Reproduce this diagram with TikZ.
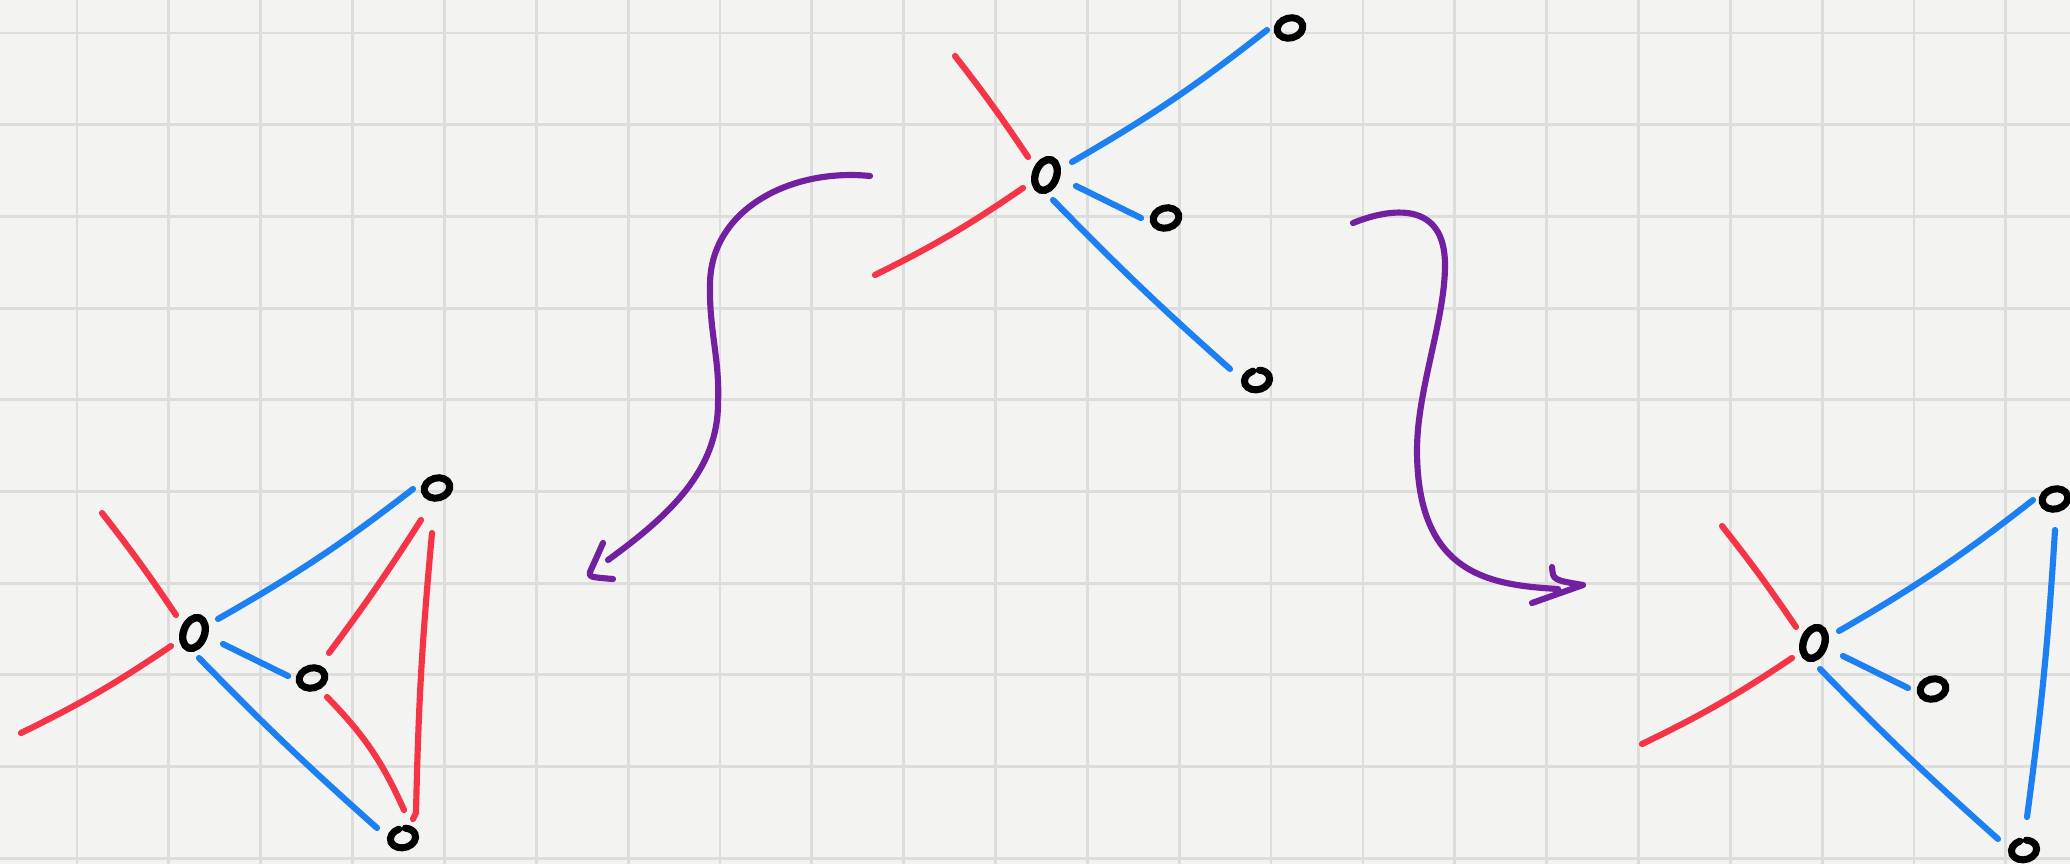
\documentclass[tikz,border=0pt]{standalone}
\usetikzlibrary{shapes.geometric}
\definecolor{paper}{RGB}{243,243,241}
\definecolor{gridc}{RGB}{221,221,219}
\definecolor{ered}{RGB}{245,52,72}
\definecolor{eblue}{RGB}{28,128,242}
\definecolor{apurple}{RGB}{114,32,160}
\tikzset{
  hub/.style={ellipse, draw=black, line width=2.1pt, inner sep=0pt, outer sep=0pt, minimum width=0.21cm, minimum height=0.32cm, rotate=-20},
  vtx/.style={ellipse, draw=black, line width=2pt, inner sep=0pt, outer sep=0pt, minimum width=0.26cm, minimum height=0.20cm, rotate=15},
  vtxo/.style={vtx, draw=none},
  ring/.style={draw=black, line width=2pt, line cap=round},
  redge/.style={draw=ered, line width=1.75pt, line cap=round},
  bedge/.style={draw=eblue, line width=1.75pt, line cap=round},
  parrow/.style={draw=apurple, line width=1.75pt, line cap=round, line join=round},
  gridline/.style={draw=gridc, line width=0.8pt},
}
\newcommand{\openring}[1]{%
  \begin{scope}[shift={(#1.center)}, rotate=12]
    \draw[ring] (100:0.127cm and 0.097cm) arc[start angle=100, end angle=430, x radius=0.127cm, y radius=0.097cm];
  \end{scope}}
\begin{document}
\begin{tikzpicture}[x=0.01cm, y=-0.01cm]
\fill[paper] (0,0) rectangle (2070,864);
\useasboundingbox (0,0) rectangle (2070,864);
\foreach \i in {0,...,21} \draw[gridline] ({77+91.85*\i},0) -- ({77+91.85*\i},864);
\foreach \j in {0,...,9} \draw[gridline] (0,{33+91.7*\j}) -- (2070,{33+91.7*\j});

% top graph
\node[hub] (tc) at (1046,175) {};
\node[vtx] (tA) at (1290,28) {};
\node[vtx] (tB) at (1166,218) {};
\node[vtxo] (tC) at (1257,380) {};
\openring{tC}
\coordinate (tr1) at (955,56);
\coordinate (tr2) at (875,275);
\draw[redge] (tr1) to[bend left=2] ([shift={(-18,-18)}]tc.center);
\draw[redge] (tr2) to[bend right=4] ([shift={(-23,13)}]tc.center);
\draw[bedge] ([shift={(26,-13)}]tc.center) to[bend right=4] ([shift={(-23,2)}]tA.center);
\draw[bedge] ([shift={(30,11)}]tc.center) -- ([shift={(-25,0)}]tB.center);
\draw[bedge] ([shift={(7,25)}]tc.center) to[bend right=2] ([shift={(-27,-11)}]tC.center);

% left graph
\node[hub] (lc) at (194,633) {};
\node[vtx] (lA) at (437,488) {};
\node[vtx] (lB) at (312,678) {};
\node[vtxo] (lC) at (403,838) {};
\openring{lC}
\coordinate (lr1) at (102,513);
\coordinate (lr2) at (21,733);
\draw[redge] (lr1) to[bend left=2] ([shift={(-18,-18)}]lc.center);
\draw[redge] (lr2) to[bend right=4] ([shift={(-23,13)}]lc.center);
\draw[bedge] ([shift={(24,-14)}]lc.center) to[bend right=4] ([shift={(-24,1)}]lA.center);
\draw[bedge] ([shift={(29,11)}]lc.center) -- ([shift={(-24,-2)}]lB.center);
\draw[bedge] ([shift={(5,25)}]lc.center) to[bend right=2] ([shift={(-26,-10)}]lC.center);
\draw[redge] ([shift={(17,-25)}]lB.center) to[bend right=2] ([shift={(-16,32)}]lA.center);
\draw[redge] ([shift={(15,19)}]lB.center) to[bend left=10] ([shift={(1,-28)}]lC.center);
\draw[redge] ([shift={(-5,45)}]lA.center) to[bend right=2] ([shift={(13,-25)}]lC.center) -- ++(-3,6);

% right graph
\node[hub] (rc) at (1814,643) {};
\node[vtx] (rA) at (2055,499) {};
\node[vtx] (rB) at (1933,689) {};
\node[vtxo] (rC) at (2024,850) {};
\openring{rC}
\coordinate (rr1) at (1722,526);
\coordinate (rr2) at (1642,744);
\draw[redge] (rr1) to[bend left=2] ([shift={(-18,-16)}]rc.center);
\draw[redge] (rr2) to[bend right=4] ([shift={(-22,15)}]rc.center);
\draw[bedge] ([shift={(25,-12)}]rc.center) to[bend right=4] ([shift={(-22,1)}]rA.center);
\draw[bedge] ([shift={(29,13)}]rc.center) -- ([shift={(-25,-1)}]rB.center);
\draw[bedge] ([shift={(6,26)}]rc.center) to[bend right=2] ([shift={(-26,-11)}]rC.center);
\draw[bedge] ([shift={(0,31)}]rA.center) to[bend left=2] ([shift={(3,-33)}]rC.center);

% left purple arrow
\coordinate (a1s) at (870,176);
\coordinate (a1e) at (608,560);
\coordinate (a1t) at (590,572);
\draw[parrow] (a1s) .. controls (790,168) and (710,210) .. (710,285) .. controls (709,330) and (720,360) .. (718,403) .. controls (718,470) and (670,515) .. (a1e);
\draw[parrow] (603,543) -- (a1t) .. controls (589,577) .. (613,579);

% right purple arrow
\coordinate (a2s) at (1353,223);
\coordinate (a2e) at (1558,589);
\coordinate (a2t) at (1583,585);
\draw[parrow] (a2s) .. controls (1390,208) and (1445,200) .. (1445,265) .. controls (1445,320) and (1417,390) .. (1417,450) .. controls (1417,575) and (1490,585) .. (a2e);
\draw[parrow] (1552,567) .. controls (1553,580) .. (a2t) -- (1532,603);
\end{tikzpicture}
\end{document}
